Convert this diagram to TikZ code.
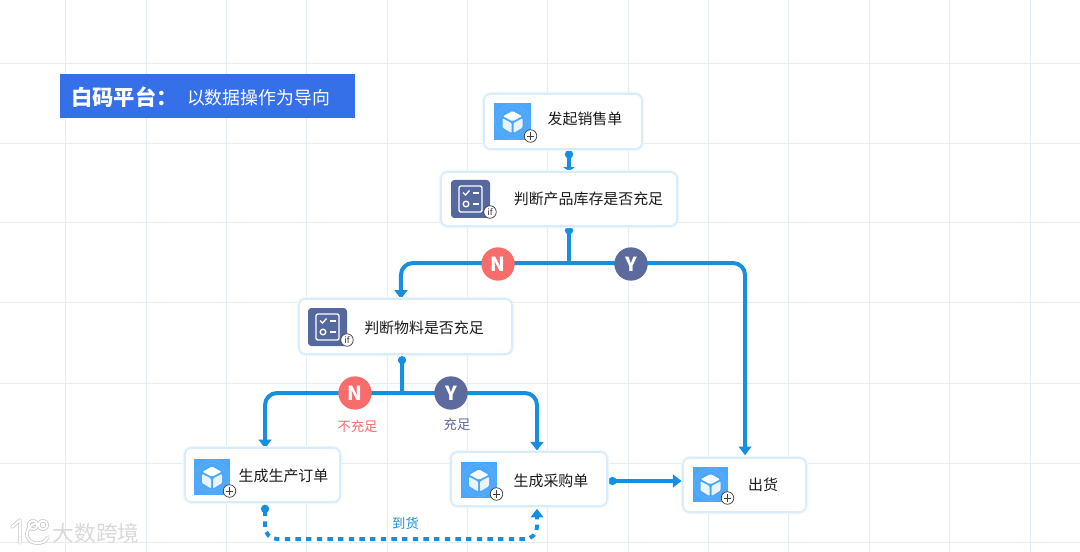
\documentclass[tikz,border=0pt]{standalone}
\usepackage{fontspec}
\setmainfont{Noto Sans CJK SC}
\usetikzlibrary{arrows.meta,calc}
\pgfdeclarelayer{gridlayer}
\pgfdeclarelayer{connlayer}
\pgfsetlayers{gridlayer,connlayer,main}
\definecolor{gridc}{HTML}{E3EEF4}
\definecolor{flow}{HTML}{168FE0}
\definecolor{glowa}{HTML}{D9ECFB}
\definecolor{glowb}{HTML}{EEF7FD}
\definecolor{cubeblue}{HTML}{4CA7FB}
\definecolor{ripple}{HTML}{5BB0FC}
\definecolor{ifblue}{HTML}{56699E}
\definecolor{redn}{HTML}{F96C6C}
\definecolor{bluey}{HTML}{5D6A9D}
\definecolor{titleblue}{HTML}{3570E8}
\definecolor{inkc}{HTML}{1B1B1B}
\tikzset{
  x=0.75pt,y=-0.75pt,
  card/.style={draw=glowa,line width=1.2pt,fill=white,rounded corners=5pt,inner sep=0pt,
    preaction={draw=glowb,line width=3pt}},
  cardtext/.style={text=inkc,font=\fontsize{11.2pt}{13pt}\selectfont,inner sep=0pt},
  badge/.style={circle,draw=black!75,line width=.55pt,fill=white,minimum size=9.4pt,inner sep=0pt},
  flag/.style={circle,minimum size=25pt,inner sep=0pt,text=white,font=\fontsize{14.5pt}{16pt}\selectfont\bfseries},
  flowline/.style={draw=flow,line width=3pt,rounded corners=9pt},
  dottip/.style={{Circle[length=6pt,width=6pt]}-{Triangle[length=6.5pt,width=9.5pt]}},
  shorttip/.style={{Circle[length=6pt,width=6pt]}-{Triangle[length=3pt,width=8.5pt]}},
  endtip/.style={-{Triangle[length=6.5pt,width=9.5pt]}},
  headdot/.style={{Circle[length=6pt,width=6pt]}-},
  small/.style={inner sep=0pt,font=\fontsize{10pt}{12pt}\selectfont},
}
% card: name, x1,y1,x2,y2
\newcommand{\cardbox}[5]{\node[card,minimum width={(#4-#2)*0.75pt},minimum height={(#5-#3)*0.75pt}] (#1) at ({(#2+#4)/2},{(#3+#5)/2}) {};}
% cube icon: name, x1,y1, size
\newcommand{\cubeicon}[4]{%
  \fill[cubeblue] (#2,#3) rectangle ++(#4,#4);
  \begin{scope}[shift={(#2+#4/2,#3+#4/2)}]
    \draw[ripple,line width=.5pt] (0,0) circle (#4*.46);
    \draw[ripple,line width=.5pt] (0,0) circle (#4*.38);
    \fill[white,rounded corners=.8pt] (0,-10.5) -- (9.5,-5.2) -- (0,-.3) -- (-9.5,-5.2) -- cycle;
    \fill[white,opacity=.88,rounded corners=.8pt] (-10,-3.2) -- (-1,1.6) -- (-1,11.5) -- (-10,6) -- cycle;
    \fill[white,opacity=.88,rounded corners=.8pt] (10,-3.2) -- (1,1.6) -- (1,11.5) -- (10,6) -- cycle;
  \end{scope}
  \node[badge] (#1) at (#2+#4-.5,#3+#4-4) {};
  \draw[black!75,line width=.5pt] ($(#1)+(-3.6,0)$) -- ($(#1)+(3.6,0)$) ($(#1)+(0,-3.6)$) -- ($(#1)+(0,3.6)$);
}
% if icon: name, x1, y1
\newcommand{\ificon}[3]{%
  \fill[ifblue,rounded corners=2.5pt] (#2,#3) rectangle ++(39,38);
  \begin{scope}[shift={(#2+19.5,#3+19)}]
    \draw[white,line width=1pt,rounded corners=1.5pt] (-11.5,-13) rectangle (11.5,13);
    \draw[white,line width=1pt] (-7.5,-6.5) -- (-5,-4) -- (-1,-8.5);
    \draw[white,line width=1pt] (2,-6) -- (8,-6) (2,5) -- (8,5);
    \draw[white,line width=1pt] (-4.5,5) circle (2.8);
  \end{scope}
  \node[badge,font=\fontsize{6.5pt}{7pt}\selectfont\itshape,text=black!80] (#1) at (#2+39,#3+32) {if};
}
\begin{document}
\begin{tikzpicture}
\useasboundingbox (0,0) rectangle (1080,552);
\begin{pgfonlayer}{gridlayer}
  \fill[white] (0,0) rectangle (1080,552);
  \foreach \gx in {65,146,226,306,387,467,547,628,708,788,869,949,1030}
    \draw[gridc,line width=.6pt] (\gx,0) -- (\gx,552);
  \foreach \gy in {63,143,222,302,383,463,542}
    \draw[gridc,line width=.6pt] (0,\gy) -- (1080,\gy);
\end{pgfonlayer}

% title
\node[fill=titleblue,minimum width=221.25pt,minimum height=33pt,inner sep=0pt] (banner) at (207.5,96) {};
\node[inner sep=0pt,text=white,font=\fontsize{16pt}{18pt}\selectfont\bfseries,anchor=west] (ttl) at (71,97.5) {白码平台：};
\node[inner sep=0pt,text=white,font=\fontsize{13.4pt}{15pt}\selectfont] (subttl) at (258.5,98) {以数据操作为导向};

% cards
\cardbox{A}{484}{94}{642}{149}
\cardbox{B}{441}{172}{677}{226}
\cardbox{C}{299}{299}{512}{354}
\cardbox{D}{185}{448}{340}{502}
\cardbox{E}{451}{452}{607}{506}
\cardbox{F}{683}{458}{806}{512}

\cubeicon{Aplus}{494}{103}{37}
\ificon{Bif}{451}{180}
\ificon{Cif}{308}{308}
\cubeicon{Dplus}{194}{459}{36}
\cubeicon{Eplus}{461}{462}{36}
\cubeicon{Fplus}{693}{467}{35}

\node[cardtext] (Atext) at (585,118.5) {发起销售单};
\node[cardtext] (Btext) at (588.5,198.5) {判断产品库存是否充足};
\node[cardtext] (Ctext) at (424,327.5) {判断物料是否充足};
\node[cardtext] (Dtext) at (283.5,475.5) {生成生产订单};
\node[cardtext] (Etext) at (551,480.5) {生成采购单};
\node[cardtext] (Ftext) at (763,484.5) {出货};

% decision flags
\node[flag,fill=redn] (N1) at (498,264) {N};
\node[flag,fill=bluey] (Y1) at (631,264) {Y};
\node[flag,fill=redn] (N2) at (355,393) {N};
\node[flag,fill=bluey] (Y2) at (451,393) {Y};
\node[small,text=redn] (Nlab) at (357.5,426) {不充足};
\node[small,text=bluey] (Ylab) at (457,424.5) {充足};
\node[small,text=flow] (Arr) at (405.5,523) {到货};

% junctions and free ends
\coordinate (J1) at (569,263);
\coordinate (J2) at (402,393);
\coordinate (Dbus) at (400,539);

\begin{pgfonlayer}{connlayer}
  \draw[flowline,shorttip] ([xshift=4.5pt,yshift=-.5pt]A.south) -- ([xshift=7.5pt,yshift=0pt]B.north);
  \draw[flowline,headdot] ([xshift=7.5pt,yshift=.3pt]B.south) -- (J1);
  \draw[flowline,endtip] (J1) -| ([xshift=-3.4pt,yshift=-.5pt]C.north);
  \draw[flowline,endtip] (J1) -| ([xshift=.4pt,yshift=1.5pt]F.north);
  \draw[flowline,headdot] ([xshift=-2.6pt,yshift=-1pt]C.south) -- (J2);
  \draw[flowline,endtip] (J2) -| ([xshift=1.9pt,yshift=-.8pt]D.north);
  \draw[flowline,endtip] (J2) -| ([xshift=6pt,yshift=.5pt]E.north);
  \draw[flowline,dottip] ([xshift=.5pt,yshift=-1.5pt]E.east) -- ([xshift=-.5pt,yshift=3pt]F.west);
  \draw[flowline,dottip,dash pattern=on 4pt off 4pt]
     ([xshift=1.9pt,yshift=-1.5pt]D.south) |- (Dbus) -| ([xshift=6pt,yshift=-1.5pt]E.south);
\end{pgfonlayer}

% watermark
\begin{scope}[line cap=round,line join=round]
  \foreach \wc/\ww in {black!22/2.6pt,white/1.5pt}{
    \draw[\wc,line width=\ww] (12,527) -- (20,520) -- (20,543);
    \draw[\wc,line width=\ww] (36,523) .. controls (24,527) and (24,541) .. (35,543) .. controls (42,544) and (46,541) .. (48,537);
    \draw[\wc,line width=\ww] (33,525) circle (4.4);
    \draw[\wc,line width=\ww] (43,525) circle (4.4);
  }
\end{scope}
\node[inner sep=0pt,text=black!15,font=\fontsize{16.2pt}{18pt}\selectfont] (wm) at (96,533) {大数跨境};
\end{tikzpicture}
\end{document}
